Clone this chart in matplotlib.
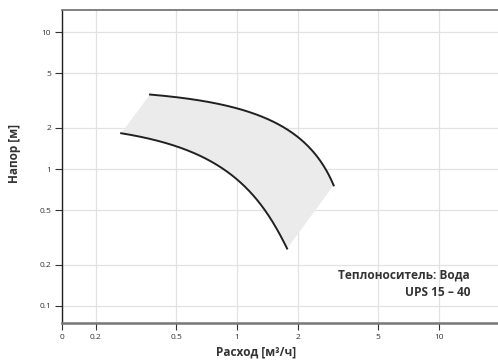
import matplotlib
matplotlib.use("Agg")
import matplotlib.pyplot as plt
import numpy as np

plt.rcParams['font.family'] = ['Open Sans', 'DejaVu Sans']

# Data (flow m3/h, head m)
upper_q = [0.371, 0.494, 0.710, 1.0, 1.41, 1.77, 2.0, 2.40, 3.01]
upper_h = [3.53, 3.34, 3.07, 2.77, 2.34, 1.98, 1.71, 1.29, 0.77]
lower_q = [0.267, 0.494, 0.737, 1.0, 1.257, 1.52, 1.77]
lower_h = [1.83, 1.46, 1.155, 0.847, 0.587, 0.395, 0.266]

x_ticks = [0.136, 0.2, 0.5, 1, 2, 5, 10]
x_labels = ["0", "0.2", "0.5", "1", "2", "5", "10"]
y_ticks = [0.1, 0.2, 0.5, 1, 2, 5, 10]
y_labels = ["0.1", "0.2", "0.5", "1", "2", "5", "10"]


def smooth(q, h, n=300):
    q = np.asarray(q); h = np.asarray(h)
    c = np.polyfit(q, h, 2)
    t = 10**np.linspace(np.log10(q[0]), np.log10(q[-1]), n)
    return t, np.polyval(c, t)


fig = plt.figure(figsize=(4.98, 3.64), dpi=100)
ax = fig.add_axes([62/498, 41/364, 1 - 62/498, (323-10)/364])
ax.set_xscale('log')
ax.set_yscale('log')
ax.set_xlim(0.136, 19.6)
ax.set_ylim(0.0751, 14.5)

uq, uh = smooth(upper_q, upper_h)
lq, lh = smooth(lower_q, lower_h)

poly_x = np.concatenate([uq, lq[::-1]])
poly_y = np.concatenate([uh, lh[::-1]])
ax.fill(poly_x, poly_y, color='#ebebeb', lw=0, zorder=1)
ax.plot(uq, uh, color='#231f20', lw=1.4, zorder=3)
ax.plot(lq, lh, color='#231f20', lw=1.4, zorder=3)

ax.set_xticks(x_ticks)
ax.set_xticklabels(x_labels)
ax.set_yticks(y_ticks)
ax.set_yticklabels(y_labels)
ax.xaxis.set_minor_locator(matplotlib.ticker.NullLocator())
ax.yaxis.set_minor_locator(matplotlib.ticker.NullLocator())

ax.grid(True, color='#e2e2e2', lw=0.9, zorder=0)
ax.set_axisbelow(True)

ax.tick_params(axis='both', labelsize=6, colors='#333333', length=5, width=0.8, pad=3)

ax.spines['right'].set_visible(False)
ax.spines['top'].set_color('#777777')
ax.spines['top'].set_linewidth(1.3)
ax.spines['bottom'].set_color('#777777')
ax.spines['bottom'].set_linewidth(1.8)
ax.spines['left'].set_color('#231f20')
ax.spines['left'].set_linewidth(1.0)

ax.set_xlabel('Расход [м³/ч]', fontsize=8.5, fontweight='bold', color='#333333')
ax.xaxis.set_label_coords((256-62)/436, -(345-323)/313)
ax.set_ylabel('Напор [м]', fontsize=8.5, fontweight='bold', color='#333333')
ax.yaxis.set_label_coords(-(62-21)/436, (323-153)/313)

fig.text(470/498, 1 - 275/364, 'Теплоноситель: Вода', ha='right', va='center',
         fontsize=8.6, fontweight='bold', color='#333333')
fig.text(470/498, 1 - 293/364, 'UPS 15 – 40', ha='right', va='center',
         fontsize=8.6, fontweight='bold', color='#333333')

fig.savefig('out.png', dpi=100)
